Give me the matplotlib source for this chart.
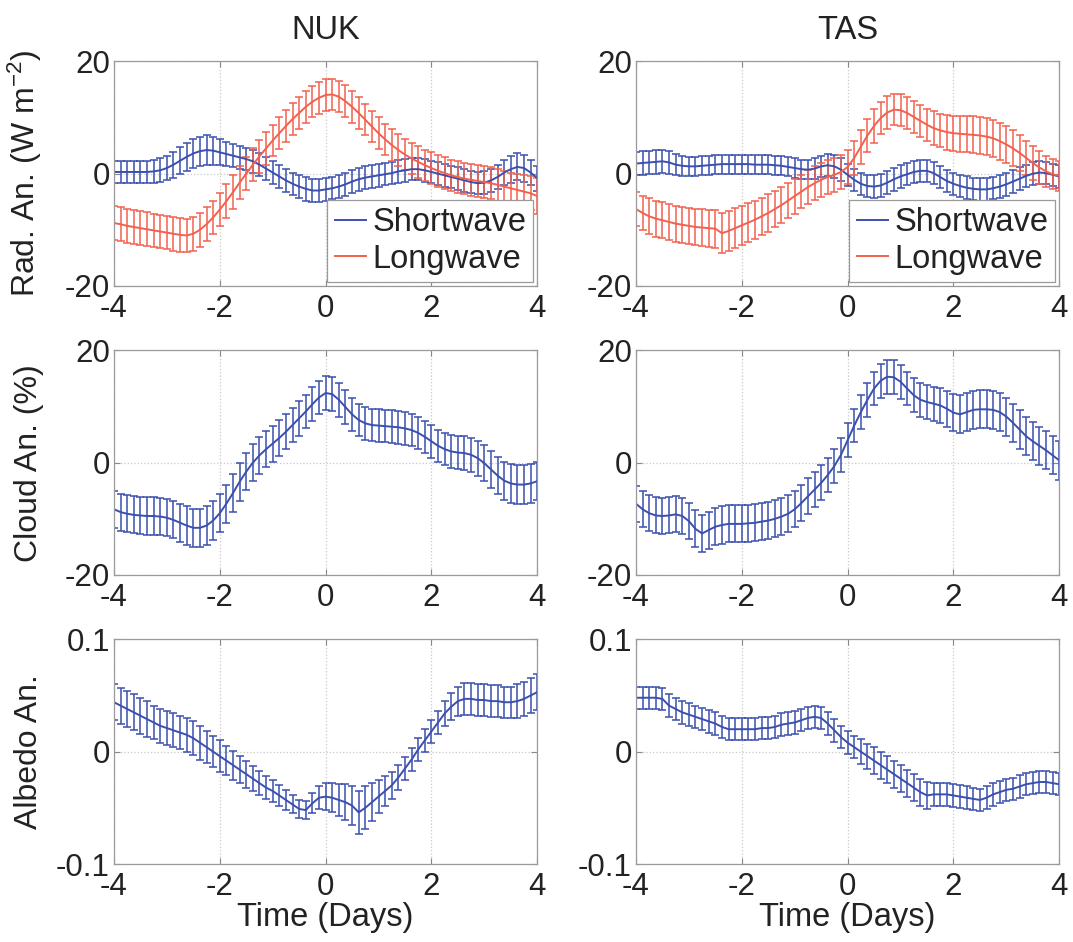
import numpy as np
import matplotlib
matplotlib.use('Agg')
import matplotlib.pyplot as plt
from matplotlib.ticker import FuncFormatter

plt.rcParams['font.family'] = ['Liberation Sans', 'DejaVu Sans']
plt.rcParams['mathtext.fontset'] = 'custom'
plt.rcParams['mathtext.rm'] = 'Liberation Sans'
plt.rcParams['mathtext.it'] = 'Liberation Sans:italic'

# time axis (days), 3-hourly composite
time = np.arange(-4, 4.0001, 0.125)

# ---- NUK ----
nuk_sw = [0.3, 0.3, 0.3, 0.3, 0.3, 0.3, 0.4, 0.6, 1.0, 1.6, 2.3, 3.0, 3.6, 4.0, 4.2, 4.1,
          3.8, 3.5, 3.2, 2.9, 2.6, 2.2, 1.6, 0.9, 0.2, -0.5, -1.2, -1.8, -2.3, -2.7, -3.0, -3.0,
          -2.8, -2.6, -2.3, -1.9, -1.4, -1.0, -0.7, -0.5, -0.3, -0.1, 0.1, 0.4, 0.6, 0.8, 0.8, 0.6,
          0.3, 0.0, -0.3, -0.6, -0.9, -1.2, -1.5, -1.7, -1.6, -1.2, -0.6, 0.2, 0.8, 1.2, 1.0, 0.2,
          -0.8]
nuk_sw_err = [2.0, 2.0, 2.0, 2.0, 2.0, 2.0, 2.0, 2.1, 2.2, 2.3, 2.4, 2.5, 2.6, 2.6, 2.6, 2.5,
              2.3, 2.1, 2.0, 2.0, 2.0, 2.0, 2.0, 2.0, 2.0, 2.0, 2.0, 2.0, 2.1, 2.1, 2.1, 2.1,
              2.0, 2.0, 2.0, 2.0, 2.0, 2.0, 2.0, 2.0, 2.0, 2.0, 2.0, 2.0, 2.0, 2.0, 2.0, 2.0,
              2.0, 2.0, 2.0, 2.0, 2.0, 2.0, 2.0, 2.0, 2.0, 2.1, 2.2, 2.3, 2.4, 2.4, 2.4, 2.3,
              2.2]
nuk_lw = [-8.8, -9.0, -9.3, -9.5, -9.7, -9.9, -10.1, -10.3, -10.5, -10.7, -10.9, -11.0, -10.7, -10.0, -9.0, -7.8,
          -6.4, -4.9, -3.3, -1.6, 0.0, 1.6, 3.1, 4.5, 5.9, 7.2, 8.5, 9.7, 10.8, 11.9, 12.8, 13.5,
          14.0, 14.1, 13.7, 12.9, 11.9, 10.8, 9.6, 8.4, 7.2, 6.1, 5.1, 4.2, 3.4, 2.7, 2.1, 1.5,
          1.0, 0.5, 0.1, -0.3, -0.6, -0.9, -1.1, -1.3, -1.5, -1.7, -2.0, -2.3, -2.6, -2.9, -3.2, -3.5,
          -4.0]
nuk_lw_err = [3.0, 3.0, 3.0, 3.0, 3.0, 3.0, 3.0, 3.0, 3.0, 3.0, 3.0, 3.0, 3.0, 3.0, 3.0, 3.0,
              3.0, 3.0, 3.0, 3.0, 2.9, 2.9, 2.9, 2.9, 2.8, 2.8, 2.8, 2.8, 2.8, 2.8, 2.8, 2.8,
              2.8, 2.8, 2.8, 2.8, 2.8, 2.8, 2.8, 2.8, 2.8, 2.8, 2.8, 2.8, 2.8, 2.8, 2.8, 2.8,
              2.8, 2.8, 2.8, 2.8, 2.8, 2.8, 2.8, 2.8, 2.8, 2.8, 2.8, 2.8, 2.8, 2.9, 2.9, 3.0,
              3.2]
nuk_cloud = [-8.3, -8.8, -9.1, -9.3, -9.4, -9.5, -9.5, -9.6, -9.8, -10.2, -10.7, -11.2, -11.6, -11.6, -11.2, -10.3,
             -9.0, -7.3, -5.4, -3.4, -1.6, 0.0, 1.3, 2.4, 3.4, 4.4, 5.5, 6.7, 7.9, 9.1, 10.4, 11.6,
             12.4, 12.2, 11.2, 9.9, 8.6, 7.6, 7.0, 6.7, 6.6, 6.5, 6.4, 6.3, 6.1, 5.8, 5.3, 4.6,
             3.8, 3.0, 2.4, 2.0, 1.8, 1.7, 1.4, 0.8, -0.1, -1.2, -2.3, -3.2, -3.7, -3.9, -3.9, -3.7,
             -3.3]
nuk_cloud_err = [3.3, 3.3, 3.3, 3.3, 3.3, 3.3, 3.3, 3.3, 3.3, 3.3, 3.4, 3.4, 3.4, 3.4, 3.4, 3.4,
                 3.4, 3.4, 3.4, 3.4, 3.3, 3.3, 3.3, 3.2, 3.2, 3.2, 3.1, 3.1, 3.1, 3.0, 3.0, 3.0,
                 3.0, 3.0, 3.0, 3.0, 3.0, 2.9, 2.9, 2.9, 2.9, 2.9, 2.9, 2.9, 2.9, 2.9, 2.9, 2.9,
                 2.9, 2.9, 2.9, 2.9, 2.9, 3.0, 3.0, 3.1, 3.2, 3.3, 3.3, 3.4, 3.4, 3.4, 3.4, 3.4,
                 3.4]
nuk_albedo = [0.044, 0.041, 0.038, 0.035, 0.032, 0.029, 0.026, 0.023, 0.021, 0.019, 0.017, 0.015, 0.012, 0.008, 0.004, 0.000,
              -0.004, -0.008, -0.012, -0.016, -0.020, -0.024, -0.028, -0.032, -0.035, -0.039, -0.043, -0.047, -0.051, -0.052, -0.046, -0.041,
              -0.040, -0.041, -0.043, -0.045, -0.048, -0.054, -0.050, -0.045, -0.040, -0.035, -0.030, -0.023, -0.015, -0.007, 0.002, 0.010,
              0.018, 0.026, 0.034, 0.040, 0.045, 0.047, 0.047, 0.046, 0.046, 0.045, 0.045, 0.044, 0.044, 0.045, 0.047, 0.050,
              0.053]
nuk_albedo_err = [0.016, 0.016, 0.016, 0.016, 0.016, 0.016, 0.015, 0.015, 0.015, 0.015, 0.015, 0.015, 0.015, 0.015, 0.014, 0.014,
                  0.014, 0.013, 0.013, 0.012, 0.012, 0.011, 0.011, 0.010, 0.010, 0.009, 0.009, 0.008, 0.008, 0.008, 0.009, 0.010,
                  0.012, 0.013, 0.014, 0.016, 0.017, 0.019, 0.019, 0.017, 0.015, 0.013, 0.012, 0.011, 0.010, 0.010, 0.010, 0.010,
                  0.010, 0.010, 0.011, 0.012, 0.013, 0.014, 0.014, 0.014, 0.014, 0.014, 0.014, 0.014, 0.014, 0.015, 0.015, 0.016,
                  0.016]

# ---- TAS ----
tas_sw = [1.8, 1.9, 2.0, 2.1, 2.2, 2.0, 1.6, 1.4, 1.3, 1.3, 1.4, 1.5, 1.6, 1.7, 1.7, 1.7,
          1.7, 1.7, 1.6, 1.6, 1.6, 1.5, 1.4, 1.2, 1.0, 0.8, 0.7, 0.9, 1.3, 1.5, 1.3, 0.7,
          -0.2, -1.1, -1.8, -2.2, -2.3, -2.1, -1.6, -1.0, -0.5, -0.1, 0.3, 0.5, 0.5, 0.1, -0.6, -1.3,
          -1.8, -2.2, -2.5, -2.7, -2.8, -2.8, -2.6, -2.3, -1.9, -1.4, -0.9, -0.4, 0.0, 0.2, 0.1, -0.2,
          -0.5]
tas_sw_err = [2.1, 2.1, 2.1, 2.1, 2.1, 2.0, 1.9, 1.8, 1.7, 1.7, 1.7, 1.7, 1.7, 1.7, 1.7, 1.7,
              1.7, 1.7, 1.7, 1.7, 1.7, 1.7, 1.7, 1.7, 1.7, 1.7, 1.7, 1.8, 1.9, 2.0, 2.0, 2.0,
              2.0, 2.0, 2.0, 2.0, 2.0, 2.0, 2.0, 2.0, 2.0, 2.0, 2.0, 2.0, 2.0, 2.0, 2.0, 2.0,
              2.0, 2.0, 2.0, 2.0, 2.0, 2.0, 2.0, 2.0, 2.0, 2.0, 2.0, 2.0, 2.0, 2.0, 2.0, 2.0,
              2.0]
tas_lw = [-6.3, -7.0, -7.6, -8.0, -8.3, -8.6, -8.9, -9.1, -9.3, -9.5, -9.6, -9.7, -9.8, -10.6, -10.2, -9.7,
          -9.2, -8.7, -8.2, -7.6, -7.0, -6.3, -5.6, -4.8, -4.0, -3.2, -2.4, -1.7, -1.1, -0.6, -0.2, 0.3,
          1.2, 2.8, 4.8, 6.8, 8.5, 9.9, 10.9, 11.4, 11.3, 10.8, 10.1, 9.4, 8.7, 8.1, 7.7, 7.4,
          7.2, 7.1, 7.0, 6.9, 6.8, 6.6, 6.3, 5.8, 5.2, 4.5, 3.7, 2.8, 1.9, 1.1, 0.4, -0.1,
          -0.4]
tas_lw_err = [3.0, 3.1, 3.2, 3.2, 3.2, 3.2, 3.2, 3.2, 3.2, 3.2, 3.3, 3.3, 3.4, 3.6, 3.6, 3.5,
              3.5, 3.4, 3.4, 3.3, 3.3, 3.2, 3.2, 3.1, 3.1, 3.0, 3.0, 3.0, 3.0, 3.0, 3.0, 3.0,
              3.0, 3.0, 3.0, 3.0, 3.0, 2.9, 2.9, 2.8, 2.8, 2.8, 2.8, 2.9, 2.9, 3.0, 3.0, 3.1,
              3.1, 3.2, 3.2, 3.3, 3.3, 3.3, 3.3, 3.3, 3.3, 3.2, 3.2, 3.1, 3.0, 2.9, 2.8, 2.7,
              2.6]
tas_cloud = [-7.3, -8.3, -9.0, -9.4, -9.5, -9.4, -9.2, -9.5, -10.4, -11.8, -12.6, -12.0, -11.4, -11.1, -10.9, -10.9,
             -10.9, -10.8, -10.7, -10.5, -10.3, -10.0, -9.6, -9.1, -8.3, -7.2, -6.0, -4.8, -3.6, -2.2, -0.6, 1.4,
             4.0, 6.6, 9.0, 11.2, 13.2, 14.6, 15.3, 15.2, 14.4, 13.2, 12.0, 11.2, 10.8, 10.5, 10.2, 9.6,
             8.9, 8.6, 9.0, 9.4, 9.5, 9.5, 9.4, 9.0, 8.2, 7.1, 5.9, 4.7, 3.8, 3.0, 2.2, 1.3,
             0.4]
tas_cloud_err = [3.2, 3.2, 3.2, 3.2, 3.2, 3.2, 3.2, 3.2, 3.2, 3.3, 3.3, 3.3, 3.3, 3.3, 3.3, 3.3,
                 3.3, 3.3, 3.3, 3.3, 3.3, 3.3, 3.3, 3.3, 3.2, 3.2, 3.2, 3.1, 3.1, 3.1, 3.0, 3.0,
                 3.0, 3.0, 3.0, 3.0, 3.0, 3.0, 3.0, 3.0, 3.0, 3.0, 3.0, 3.0, 3.0, 3.0, 3.1, 3.2,
                 3.3, 3.4, 3.4, 3.4, 3.4, 3.4, 3.4, 3.4, 3.4, 3.4, 3.4, 3.4, 3.4, 3.4, 3.4, 3.4,
                 3.4]
tas_albedo = [0.048, 0.048, 0.048, 0.048, 0.047, 0.041, 0.038, 0.035, 0.033, 0.031, 0.029, 0.027, 0.025, 0.022, 0.020, 0.020,
              0.020, 0.020, 0.020, 0.021, 0.021, 0.022, 0.024, 0.025, 0.026, 0.028, 0.030, 0.031, 0.030, 0.025, 0.019, 0.013,
              0.008, 0.004, 0.000, -0.004, -0.008, -0.012, -0.016, -0.020, -0.024, -0.028, -0.032, -0.036, -0.039, -0.038, -0.038, -0.038,
              -0.039, -0.040, -0.041, -0.042, -0.043, -0.041, -0.038, -0.036, -0.034, -0.033, -0.031, -0.029, -0.028, -0.027, -0.027, -0.028,
              -0.029]
tas_albedo_err = [0.010, 0.010, 0.010, 0.010, 0.010, 0.010, 0.010, 0.010, 0.010, 0.010, 0.010, 0.010, 0.010, 0.010, 0.010, 0.010,
                  0.010, 0.010, 0.010, 0.010, 0.010, 0.010, 0.010, 0.010, 0.010, 0.010, 0.010, 0.010, 0.010, 0.010, 0.010, 0.010,
                  0.010, 0.010, 0.011, 0.011, 0.012, 0.012, 0.012, 0.012, 0.012, 0.012, 0.012, 0.012, 0.012, 0.010, 0.010, 0.010,
                  0.010, 0.010, 0.010, 0.010, 0.010, 0.010, 0.010, 0.010, 0.010, 0.010, 0.010, 0.010, 0.010, 0.010, 0.010, 0.010,
                  0.010]

stations = ['NUK', 'TAS']
blue = '#3a4fae'
red = '#f2604e'
txtc = '#222222'

fig = plt.figure(figsize=(10.73, 9.42), dpi=100)
lefts = [0.1062, 0.5927]
bottoms = [0.6964, 0.3896, 0.0828]
w = 0.3945
h = 0.2385

fmt = FuncFormatter(lambda v, p: '%g' % v)

def style(ax, ylim, yticks):
    ax.set_xlim(-4, 4)
    ax.set_ylim(*ylim)
    ax.set_xticks([-4, -2, 0, 2, 4])
    ax.set_yticks(yticks)
    ax.xaxis.set_major_formatter(fmt)
    ax.yaxis.set_major_formatter(fmt)
    ax.grid(True, linestyle=':', color='#c8c8c8', linewidth=0.9)
    ax.tick_params(direction='in', length=4, width=0.8, color='#888888',
                   labelsize=22.5, labelcolor=txtc, top=True, right=True)
    ax.tick_params(axis='x', pad=6)
    ax.tick_params(axis='y', pad=3)
    for s in ax.spines.values():
        s.set_color('#9a9a9a')
        s.set_linewidth(0.9)

ebkw = dict(capsize=3.2, elinewidth=1.1, capthick=1.1, linewidth=1.4)

data = {
    'NUK': (nuk_sw, nuk_sw_err, nuk_lw, nuk_lw_err, nuk_cloud, nuk_cloud_err, nuk_albedo, nuk_albedo_err),
    'TAS': (tas_sw, tas_sw_err, tas_lw, tas_lw_err, tas_cloud, tas_cloud_err, tas_albedo, tas_albedo_err),
}

ylab_x = -0.165
ylab_fs = 23

for j, st in enumerate(stations):
    sw, swe, lw, lwe, cl, cle, al, ale = data[st]

    ax = fig.add_axes([lefts[j], bottoms[0], w, h])
    ax.errorbar(time, sw, yerr=swe, color=blue, **ebkw)
    ax.errorbar(time, lw, yerr=lwe, color=red, **ebkw)
    style(ax, (-20, 20), [-20, 0, 20])
    ax.set_title(st, fontsize=23.5, color=txtc, pad=16)
    h1, = ax.plot([], [], color=blue, linewidth=1.4)
    h2, = ax.plot([], [], color=red, linewidth=1.4)
    leg = ax.legend([h1, h2], ['Shortwave', 'Longwave'], loc='lower right', fontsize=23.5,
                    handlelength=0.95, handletextpad=0.2, borderaxespad=0.12,
                    borderpad=0.22, labelspacing=0.18, fancybox=False, framealpha=1)
    leg.get_frame().set_edgecolor('#9a9a9a')
    leg.get_frame().set_linewidth(0.9)
    for t in leg.get_texts():
        t.set_color(txtc)
    if j == 0:
        ax.set_ylabel('Rad. An. (W m$^{-2}$)', fontsize=ylab_fs, color=txtc)
        ax.yaxis.set_label_coords(ylab_x, 0.5)

    ax = fig.add_axes([lefts[j], bottoms[1], w, h])
    ax.errorbar(time, cl, yerr=cle, color=blue, **ebkw)
    style(ax, (-20, 20), [-20, 0, 20])
    if j == 0:
        ax.set_ylabel('Cloud An. (%)', fontsize=ylab_fs, color=txtc)
        ax.yaxis.set_label_coords(ylab_x, 0.5)

    ax = fig.add_axes([lefts[j], bottoms[2], w, h])
    ax.errorbar(time, al, yerr=ale, color=blue, **ebkw)
    style(ax, (-0.1, 0.1), [-0.1, 0, 0.1])
    ax.set_xlabel('Time (Days)', fontsize=23.5, color=txtc, labelpad=0)
    if j == 0:
        ax.set_ylabel('Albedo An.', fontsize=ylab_fs, color=txtc)
        ax.yaxis.set_label_coords(ylab_x, 0.5)

fig.savefig('out.png', dpi=100)
